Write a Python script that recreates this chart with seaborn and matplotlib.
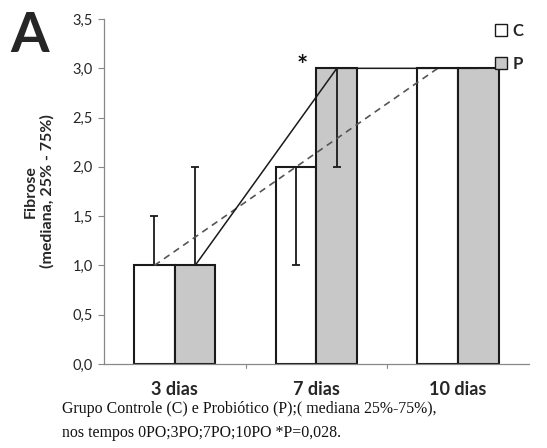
import matplotlib
matplotlib.use("Agg")
import matplotlib.pyplot as plt
import seaborn as sns
import pandas as pd
from matplotlib.patches import Patch

categories = ["3 dias", "7 dias", "10 dias"]
groups = ["C", "P"]
median_C = [1.0, 2.0, 3.0]
median_P = [1.0, 3.0, 3.0]
q25_C = [1.0, 1.0, 3.0]
q75_C = [1.5, 2.0, 3.0]
q25_P = [1.0, 2.0, 3.0]
q75_P = [2.0, 3.0, 3.0]
yticks = [0.0, 0.5, 1.0, 1.5, 2.0, 2.5, 3.0, 3.5]

df = pd.DataFrame({
    "dia": categories * 2,
    "grupo": ["C"] * 3 + ["P"] * 3,
    "mediana": median_C + median_P,
})

sns.set_style("white")
plt.rcParams["font.family"] = ["Lato", "DejaVu Sans"]

fig = plt.figure(figsize=(5.47, 4.48), dpi=100)
ax = fig.add_axes([0.190, 0.1875, 0.777, 0.770])

palette = {"C": "#ffffff", "P": "#c8c8c8"}
sns.barplot(data=df, x="dia", y="mediana", hue="grupo", order=categories,
            hue_order=groups, palette=palette, width=0.575, gap=0,
            edgecolor="#1a1a1a", linewidth=1.5, errorbar=None, ax=ax,
            legend=False, saturation=1)

patches = ax.patches
bars = {g: patches[i * 3:(i + 1) * 3] for i, g in enumerate(groups)}
centers = {g: [p.get_x() + p.get_width() / 2 for p in bars[g]] for g in groups}

# IQR error bars (25% - 75%)
for g, lo, hi, med in [("C", q25_C, q75_C, median_C), ("P", q25_P, q75_P, median_P)]:
    for x, l, h, m in zip(centers[g], lo, hi, med):
        if h - l > 0:
            ax.errorbar([x], [m], yerr=[[m - l], [h - m]], fmt="none",
                        ecolor="#1a1a1a", elinewidth=1.3, capsize=3,
                        capthick=1.3, zorder=4)

# trend lines connecting medians
ax.plot(centers["C"], median_C, linestyle=(0, (4, 3)), color="#555555", lw=1.2, zorder=5)
ax.plot(centers["P"], median_P, linestyle="-", color="#1a1a1a", lw=1.1, zorder=5)

ax.text(0.9, 3.02, "*", ha="center", va="center", fontsize=19, fontweight="bold",
        color="#111111")

ax.set_ylim(0, 3.5)
ax.set_xlim(-0.5, 2.5)
ax.set_yticks(yticks)
ax.set_yticklabels([f"{v:.1f}".replace(".", ",") for v in yticks], fontsize=10.5)
ax.set_xticks([0, 1, 2])
ax.set_xticklabels(categories, fontsize=13, fontweight="bold")
ax.tick_params(axis="x", length=0, pad=12)
ax.tick_params(axis="y", length=4, width=0.8, color="#888888", direction="out",
               left=True, pad=4)
for xb in [0.5, 1.5]:
    ax.plot([xb, xb], [0, -0.04], color="#888888", lw=0.8, clip_on=False)

ax.set_xlabel("")
ax.set_ylabel("Fibrose\n(mediana, 25% - 75%)", fontsize=11.5, fontweight="bold",
              labelpad=13)
for s in ["top", "right"]:
    ax.spines[s].set_visible(False)
for s in ["left", "bottom"]:
    ax.spines[s].set_color("#888888")
    ax.spines[s].set_linewidth(0.9)

handles = [Patch(facecolor=palette[g], edgecolor="#1a1a1a", linewidth=1.0) for g in groups]
fig.legend(handles, groups, loc="upper left", bbox_to_anchor=(0.877, 0.982),
           frameon=False, handlelength=0.75, handleheight=0.75, handletextpad=0.3,
           labelspacing=1.0, prop={"weight": "bold", "size": 12})

fig.text(0.018, 0.975, "A", fontsize=40, fontweight="bold", va="top", ha="left")

cap_font = ["Liberation Serif", "DejaVu Serif"]
fig.text(0.113, 0.088, "Grupo Controle (C) e Probiótico (P);( mediana 25%-75%),",
         fontsize=11.4, family=cap_font, va="center", color="#111111")
fig.text(0.113, 0.033, "nos tempos 0PO;3PO;7PO;10PO *P=0,028.",
         fontsize=11.4, family=cap_font, va="center", color="#111111")

fig.savefig("out.png", dpi=100)
